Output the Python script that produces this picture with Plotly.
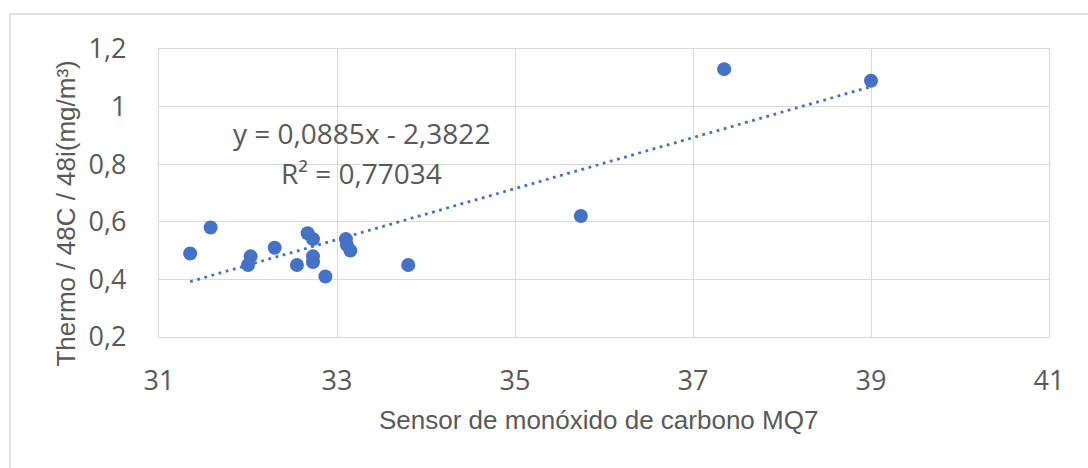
import plotly.graph_objects as go

# MQ7 sensor readings vs. Thermo 48C / 48i reference (mg/m³)
sensor_mq7 = [31.35, 31.58, 32.03, 32.00, 32.30, 32.55, 32.67, 32.73, 32.73,
              32.73, 32.87, 33.10, 33.11, 33.15, 33.80, 35.74, 37.35, 39.00]
thermo_ref = [0.49, 0.58, 0.48, 0.45, 0.51, 0.45, 0.56, 0.54, 0.48,
              0.46, 0.41, 0.54, 0.52, 0.50, 0.45, 0.62, 1.13, 1.09]

# Linear trend line coefficients and fit quality
slope = 0.0885
intercept = -2.3822
r_squared = 0.77034

x_ticks = [31, 33, 35, 37, 39, 41]
y_ticks = [0.2, 0.4, 0.6, 0.8, 1.0, 1.2]


def fmt_dec(v, nd=None):
    s = f"{v:.{nd}f}" if nd is not None else f"{v:g}"
    return s.replace(".", ",")


blue = "#4472C4"
grid = "#D9D9D9"
text_col = "#595959"
tick_font = dict(family="Open Sans", size=27, color=text_col)

x_fit = [min(sensor_mq7), max(sensor_mq7)]
y_fit = [slope * v + intercept for v in x_fit]

fig = go.Figure()
fig.add_trace(go.Scatter(
    x=x_fit, y=y_fit, mode="lines",
    line=dict(color=blue, width=2.8, dash="2.8px,4.6px"),
    hoverinfo="skip", showlegend=False,
))
fig.add_trace(go.Scatter(
    x=sensor_mq7, y=thermo_ref, mode="markers",
    marker=dict(color=blue, size=14, line=dict(width=0)),
    showlegend=False,
))

eq_text = f"y = {fmt_dec(slope, 4)}x - {fmt_dec(abs(intercept), 4)}"
r2_text = f"R² = {fmt_dec(r_squared, 5)}"

annotations = [
    dict(text=eq_text, x=0.2278, y=0.7083, xref="paper", yref="paper",
         showarrow=False, xanchor="center", yanchor="middle",
         font=dict(family="Open Sans", size=28, color=text_col)),
    dict(text=r2_text, x=0.2278, y=0.5694, xref="paper", yref="paper",
         showarrow=False, xanchor="center", yanchor="middle",
         font=dict(family="Open Sans", size=28, color=text_col)),
    dict(text="Sensor de monóxido de carbono MQ7", x=0.4933, y=-0.288,
         xref="paper", yref="paper", showarrow=False,
         xanchor="center", yanchor="middle",
         font=dict(family="Liberation Sans", size=26, color=text_col)),
    dict(text="Thermo / 48C / 48i(mg/m³)", x=-0.1056, y=0.4288,
         xref="paper", yref="paper", showarrow=False, textangle=-90,
         xanchor="center", yanchor="middle",
         font=dict(family="Liberation Sans", size=26, color=text_col)),
]

fig.update_layout(
    width=1088, height=468,
    margin=dict(l=159, r=39, t=49, b=131),
    paper_bgcolor="white", plot_bgcolor="white",
    annotations=annotations,
    shapes=[dict(type="rect", xref="paper", yref="paper",
                 x0=-0.1674, x1=1.06, y0=-0.55, y1=1.1215,
                 line=dict(color=grid, width=1.5), layer="below")],
    xaxis=dict(
        range=[31, 41], tickvals=x_ticks,
        ticktext=[fmt_dec(v) for v in x_ticks],
        showgrid=True, gridcolor=grid, gridwidth=1.3,
        showline=True, linecolor=grid, linewidth=1.3, mirror=True,
        zeroline=False, ticks="", tickfont=tick_font, ticklabelstandoff=19,
    ),
    yaxis=dict(
        range=[0.2, 1.2], tickvals=y_ticks,
        ticktext=[fmt_dec(v) for v in y_ticks],
        showgrid=True, gridcolor=grid, gridwidth=1.3,
        showline=True, linecolor=grid, linewidth=1.3, mirror=True,
        zeroline=False, ticks="", tickfont=tick_font, ticklabelstandoff=26,
    ),
)

fig.write_html("out.html")
